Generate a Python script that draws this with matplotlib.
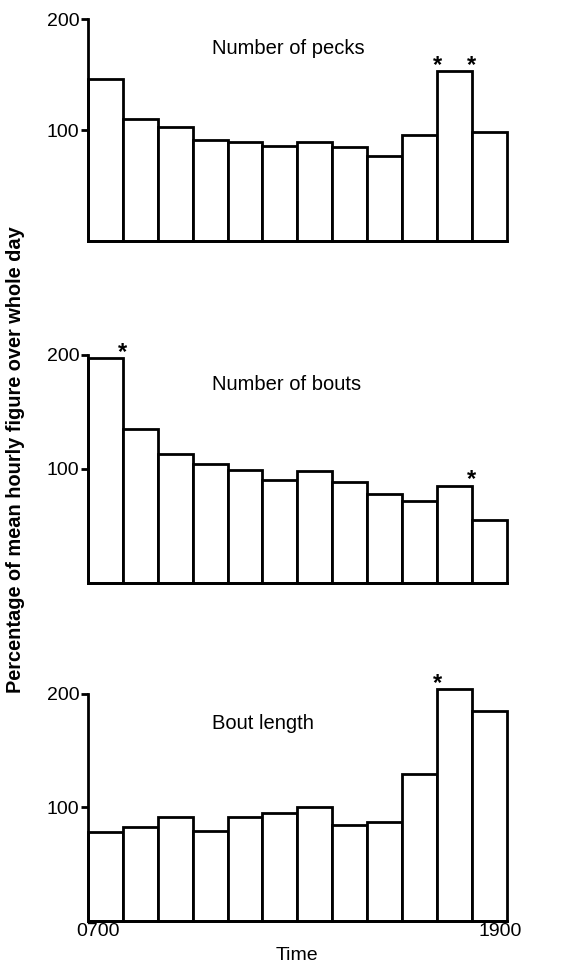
import matplotlib.pyplot as plt
import matplotlib.transforms as mtransforms
import numpy as np

plt.rcParams['font.family'] = ['Liberation Sans', 'DejaVu Sans']

# hourly values as percentage of mean hourly figure, 0700-1900
hours = np.arange(7, 19)
pecks = [146, 110, 103, 91, 89, 86, 89, 85, 77, 96, 153, 98]
bouts = [197, 135, 113, 104, 99, 90, 98, 88, 78, 72, 85, 55]
bout_len = [78, 82, 91, 79, 91, 95, 100, 84, 87, 129, 204, 185]

titles = ['Number of pecks', 'Number of bouts', 'Bout length']
# asterisks: (bar edge hour, height they sit on)
stars = [[(17, 153), (18, 153)],
         [(8, 197), (18, 85)],
         [(17, 204)]]

fig = plt.figure(figsize=(5.67, 9.68), dpi=100)
boxes = [[0.155, 0.751, 0.739, 0.229],
         [0.155, 0.398, 0.739, 0.2355],
         [0.155, 0.049, 0.739, 0.2345]]

for i, (vals, title) in enumerate(zip([pecks, bouts, bout_len], titles)):
    ax = fig.add_axes(boxes[i])
    ax.bar(hours, vals, width=1.0, align='edge', color='white',
           edgecolor='black', linewidth=2.0, clip_on=False)
    ax.set_xlim(7, 19)
    ax.set_ylim(0, 200)
    ax.set_yticks([100, 200])
    ax.tick_params(axis='y', direction='out', length=5, width=2,
                   labelsize=14, pad=1)
    for s in ['top', 'right']:
        ax.spines[s].set_visible(False)
    ax.spines['left'].set_linewidth(2)
    ax.spines['bottom'].set_linewidth(2)
    ax.text(0.296, 0.87, title, transform=ax.transAxes, fontsize=14.5,
            ha='left', va='center')
    for x, y in stars[i]:
        ax.annotate('*', (x, y), xytext=(0, -4), textcoords='offset points',
                    ha='center', va='bottom', fontsize=17, fontweight='bold',
                    annotation_clip=False)
    if i < 2:
        ax.set_xticks([])
    else:
        ax.set_xticks([7, 19])
        ax.set_xticklabels(['0700', '1900'], fontsize=14)
        ax.tick_params(axis='x', length=0, pad=2)
        # nudge the end labels inward a little
        for lab, dx in zip(ax.get_xticklabels(), [7, -5]):
            lab.set_transform(lab.get_transform() +
                              mtransforms.ScaledTranslation(dx / 72, 0, fig.dpi_scale_trans))
        ax.set_xlabel('Time', fontsize=14, labelpad=5)

fig.text(0.028, 0.525, 'Percentage of mean hourly figure over whole day',
         rotation=90, ha='center', va='center', fontsize=14.4,
         fontweight='bold')

fig.savefig('out.png', dpi=100)
